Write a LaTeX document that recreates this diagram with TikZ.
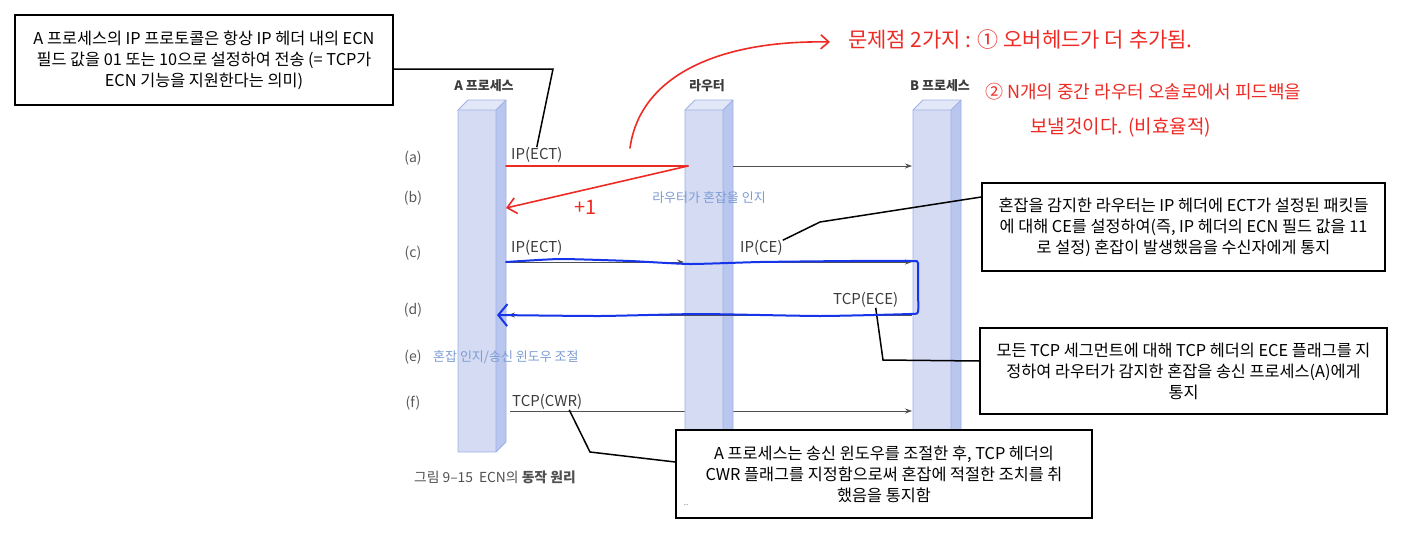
\documentclass[tikz,border=0pt]{standalone}
\usepackage{fontspec}
\setmainfont{Noto Sans CJK KR}
\usepackage{tikz}
\usetikzlibrary{arrows.meta,positioning,calc}

\definecolor{pfront}{HTML}{D4DBF3}
\definecolor{pside}{HTML}{B9C6EE}
\definecolor{ptop}{HTML}{E3E8F9}
\definecolor{pedge}{HTML}{9DB1E5}
\definecolor{agray}{HTML}{505050}
\definecolor{tgray}{HTML}{3C3C3C}
\definecolor{skyblue}{HTML}{7C9BD3}
\definecolor{penred}{HTML}{EE2A24}
\definecolor{penblue}{HTML}{1634EA}

\begin{document}
\begin{tikzpicture}[x=1pt, y=-1pt,
    msg/.style={agray, line width=0.8pt, -{Stealth[length=7pt, width=5pt]}},
    msglbl/.style={anchor=west, inner sep=0pt, text=tgray, font=\fontsize{15}{17}\selectfont},
    rowlbl/.style={inner sep=0pt, text=tgray!85, font=\fontsize{14}{16}\selectfont},
    headlbl/.style={inner sep=0pt, text=tgray, font=\fontsize{13}{15}\selectfont\bfseries},
    skylbl/.style={inner sep=0pt, text=skyblue, font=\fontsize{13}{15}\selectfont},
    note/.style={draw=black, line width=1.5pt, fill=white, align=center, inner sep=0pt, font=\fontsize{16.3}{21}\selectfont},
    callout/.style={black, line width=1.5pt},
    pen/.style={penred, line width=1.6pt, line cap=round, line join=round},
    pentext/.style={anchor=west, inner sep=0pt, text=penred}
]
    % Canvas
    \useasboundingbox (0,0) rectangle (1402,541);

    % (f) runs behind the router
    \coordinate (fA) at (510,411);
    \coordinate (fB) at (912,411);
    \draw[msg] (fA) -- (fB);

    % Draw the three pillars (A, router, B)
    \foreach \x in {458, 685, 913} {
        \fill[pfront] (\x,110) rectangle (\x+38,452);
        \fill[pside] (\x+38,110) -- (\x+48,100) -- (\x+48,442) -- (\x+38,452) -- cycle;
        \fill[ptop] (\x,110) -- (\x+10,100) -- (\x+48,100) -- (\x+38,110) -- cycle;
        \draw[pedge, line width=0.8pt, line join=round] (\x,110) -- (\x+10,100) -- (\x+48,100) -- (\x+48,442) -- (\x+38,452) -- (\x,452) -- cycle;
        \draw[pedge, line width=0.8pt] (\x,110) -- (\x+38,110) -- (\x+48,100) (\x+38,110) -- (\x+38,452);
    }

    % Headers
    \node[headlbl] (hA) at (484,86) {A 프로세스};
    \node[headlbl] (hR) at (707,86) {라우터};
    \node[headlbl] (hB) at (940,86) {B 프로세스};

    % Row labels
    \foreach \r/\y in {a/158, b/198, c/253, d/310, e/357, f/403}
        \node[rowlbl] (row-\r) at (413,\y) {(\r)};

    % (a) IP(ECT)
    \coordinate (aA) at (506,166);
    \coordinate (aR) at (688,166);
    \coordinate (aRs) at (733,166);
    \coordinate (aB) at (912,166);
    \draw[msg] (aRs) -- (aB);
    \node[msglbl] (lblA1) at (511,155) {IP(ECT)};

    % (b) router notices congestion
    \node[skylbl] (congest) at (709,198) {라우터가 혼잡을 인지};

    % (c) IP(ECT) -> IP(CE)
    \coordinate (cA) at (506,262);
    \coordinate (cR) at (684,262);
    \coordinate (cRs) at (733,262);
    \coordinate (cB) at (912,262);
    \draw[msg] (cA) -- (cR);
    \draw[msg] (cRs) -- (cB);
    \node[msglbl] (lblA2) at (511,248) {IP(ECT)};
    \node[msglbl] (lblCE) at (740,248) {IP(CE)};

    % (d) TCP(ECE)
    \coordinate (dB) at (912,315);
    \coordinate (dA) at (508,315);
    \draw[msg] (dB) -- (dA);
    \node[msglbl] (lblECE) at (833,300) {TCP(ECE)};

    % (e) window adjust
    \node[skylbl, anchor=west] (adjust) at (433,357) {혼잡 인지/송신 윈도우 조절};

    % (f) TCP(CWR)
    \node[msglbl] (lblCWR) at (512,402) {TCP(CWR)};

    % Caption
    \node[anchor=west, inner sep=0pt, text=agray, font=\fontsize{13.8}{16}\selectfont] (caption) at (414,477) {그림 9–15\hspace{6pt}ECN의 \textbf{동작 원리}};

    % Callout boxes
    \node[note, minimum width=378, minimum height=90] (b1) at (204,60) {A 프로세스의 IP 프로토콜은 항상 IP 헤더 내의 ECN\\필드 값을 01 또는 10으로 설정하여 전송 (= TCP가\\ECN 기능을 지원한다는 의미)};
    \node[note, minimum width=403, minimum height=88] (b2) at (1183.5,227) {혼잡을 감지한 라우터는 IP 헤더에 ECT가 설정된 패킷들\\에 대해 CE를 설정하여(즉, IP 헤더의 ECN 필드 값을 11\\로 설정) 혼잡이 발생했음을 수신자에게 통지};
    \node[note, minimum width=407, minimum height=86] (b3) at (1183.5,371) {모든 TCP 세그먼트에 대해 TCP 헤더의 ECE 플래그를 지\\정하여 라우터가 감지한 혼잡을 송신 프로세스(A)에게\\통지};
    \node[note, minimum width=416, minimum height=88] (b4) at (884,474) {A 프로세스는 송신 윈도우를 조절한 후, TCP 헤더의\\CWR 플래그를 지정함으로써 혼잡에 적절한 조치를 취\\했음을 통지함};
    \node[inner sep=0pt, text=gray, font=\fontsize{8}{8}\selectfont] (dots) at (686,505) {..};

    \draw[callout] ([yshift=-9pt]b1.east) -- (553,69) -- (lblA1.north);
    \draw[callout] ([yshift=30pt]b2.west) -- (820,222) -- (lblCE.north east);
    \draw[callout] ([xshift=10pt]lblECE.south) -- (883,360) -- ([yshift=10pt]b3.west);
    \draw[callout] ([xshift=22pt]lblCWR.south) -- (590,452) -- ([yshift=12pt]b4.west);

    % Handwritten notes (red)
    \coordinate (back) at (506,208);
    \coordinate (curveS) at (630,148);
    \coordinate (curveE) at (830,42);
    \draw[pen] (aA) -- (aR);
    \draw[pen, -{Straight Barb[length=9pt, width=16pt]}] (aR) -- (back);
    \draw[pen, -{Straight Barb[length=8pt, width=14pt]}] (curveS) .. controls (640,75) and (720,40) .. (curveE);
    \node[pentext, font=\fontsize{20}{22}\selectfont] (plus) at (574,207) {+1};
    \node[pentext, font=\fontsize{21}{24}\selectfont] (hw1) at (848,40) {문제점 2가지 : ① 오버헤드가 더 추가됨.};
    \node[pentext, font=\fontsize{18}{22}\selectfont] (hw2) at (985,92) {② N개의 중간 라우터 오솔로에서 피드백을};
    \node[pentext, font=\fontsize{19}{22}\selectfont] (hw3) at (1030,128) {보낼것이다. (비효율적)};

    % Handwritten loop (blue)
    \draw[penblue, line width=2pt, line cap=round, line join=round, -{Straight Barb[length=9pt, width=22pt]}] plot[smooth, tension=0.3] coordinates {(506,262) (560,259) (630,261) (690,264) (760,262) (850,261) (912,261) (918,263) (918,290) (918,312) (910,314) (820,316) (700,314) (600,316) (497,315)};
\end{tikzpicture}
\end{document}
